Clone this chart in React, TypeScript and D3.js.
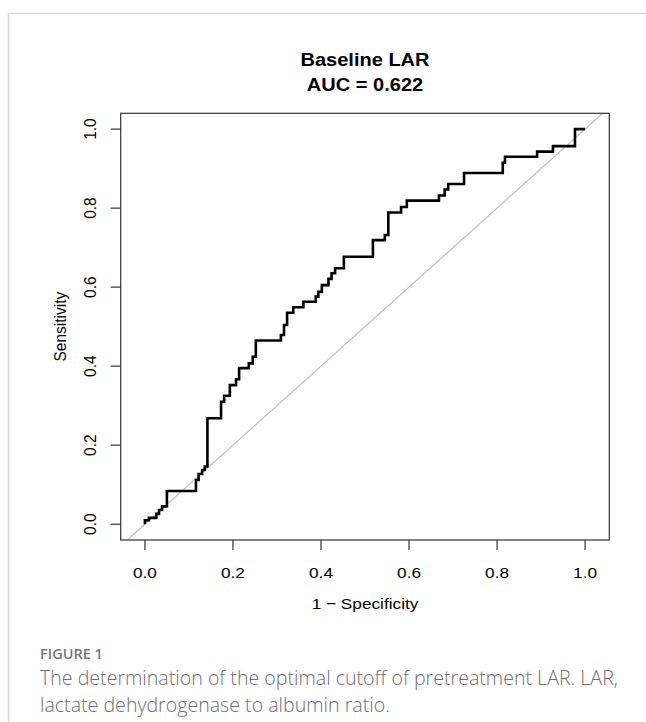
import React from "react";
import * as d3 from "d3";

// ROC corner points (end of each horizontal run)
const fpr = [
  0, 0.009, 0.026, 0.032, 0.039, 0.05, 0.116, 0.122, 0.13, 0.136, 0.142, 0.173,
  0.18, 0.193, 0.207, 0.214, 0.236, 0.245, 0.252, 0.309, 0.316, 0.323, 0.337,
  0.36, 0.388, 0.394, 0.402, 0.417, 0.424, 0.432, 0.452, 0.518, 0.545, 0.553,
  0.582, 0.595, 0.668, 0.681, 0.689, 0.725, 0.813, 0.818, 0.891, 0.927, 0.977, 1,
];
const tpr = [
  0, 0.01, 0.016, 0.026, 0.036, 0.045, 0.084, 0.112, 0.127, 0.137, 0.146, 0.268,
  0.31, 0.325, 0.352, 0.367, 0.395, 0.407, 0.424, 0.465, 0.479, 0.504, 0.535,
  0.549, 0.563, 0.576, 0.588, 0.605, 0.621, 0.635, 0.648, 0.677, 0.719, 0.732,
  0.789, 0.803, 0.819, 0.832, 0.847, 0.861, 0.889, 0.915, 0.93, 0.943, 0.957, 1,
];
const tickValues = [0, 0.2, 0.4, 0.6, 0.8, 1.0];
const titleLines = ["Baseline LAR", "AUC = 0.622"];
const xLabel = "1 \u2212 Specificity";
const yLabel = "Sensitivity";
const captionHead = "FIGURE 1";
const captionLines = [
  "The determination of the optimal cutoff of pretreatment LAR. LAR,",
  "lactate dehydrogenase to albumin ratio.",
];

const W = 646;
const H = 722;
const box = { left: 120.7, right: 609.3, top: 113.3, bottom: 540 };
const sx = 1.113; // the source picture is stretched horizontally
const arial = "'Liberation Sans', Arial, sans-serif";
const capFont = "'Open Sans', 'Noto Sans', sans-serif";

export default function App() {
  const x = d3.scaleLinear().domain([-0.055, 1.055]).range([box.left, box.right]);
  const y = d3.scaleLinear().domain([-0.04, 1.04]).range([box.bottom, box.top]);

  const pts = fpr.map((f, i) => [f, tpr[i]] as [number, number]);
  const roc = d3
    .line<[number, number]>()
    .x((d) => x(d[0]))
    .y((d) => y(d[1]))
    .curve(d3.curveStepBefore)(pts);

  const cx = (box.left + box.right) / 2;
  const cy = y(0.5);

  return (
    <svg
      width={W}
      height={H}
      style={{ position: "absolute", left: 0, top: 0, background: "#fff" }}
    >
      <defs>
        <clipPath id="plotClip">
          <rect x={box.left} y={box.top} width={box.right - box.left} height={box.bottom - box.top} />
        </clipPath>
      </defs>

      {/* page frame */}
      <rect x={8.5} y={13.5} width={W + 20} height={H + 20} fill="none" stroke="#d9d9d9" strokeWidth={1.5} />

      {/* title */}
      {titleLines.map((t, i) => (
        <text
          key={t}
          transform={`translate(${cx},${66 + i * 25}) scale(${sx},1)`}
          textAnchor="middle"
          fontFamily={arial}
          fontWeight="bold"
          fontSize={18}
          fill="#000"
        >
          {t}
        </text>
      ))}

      {/* chance line */}
      <line
        x1={x(-0.055)}
        y1={y(-0.055)}
        x2={x(1.055)}
        y2={y(1.055)}
        stroke="#bdbdbd"
        strokeWidth={1.2}
        clipPath="url(#plotClip)"
      />

      {/* ROC curve */}
      <path d={roc || ""} fill="none" stroke="#000" strokeWidth={2.6} strokeLinejoin="miter" />

      {/* box */}
      <rect
        x={box.left}
        y={box.top}
        width={box.right - box.left}
        height={box.bottom - box.top}
        fill="none"
        stroke="#333"
        strokeWidth={1.2}
      />

      {/* x axis */}
      {tickValues.map((v) => (
        <g key={"x" + v}>
          <line x1={x(v)} x2={x(v)} y1={box.bottom} y2={box.bottom + 10} stroke="#333" strokeWidth={1.2} />
          <text
            transform={`translate(${x(v)},${578}) scale(${sx},1)`}
            textAnchor="middle"
            fontFamily={arial}
            fontSize={15.5}
            fill="#000"
          >
            {d3.format(".1f")(v)}
          </text>
        </g>
      ))}
      <text
        transform={`translate(${cx},${609}) scale(${sx},1)`}
        textAnchor="middle"
        fontFamily={arial}
        fontSize={15.5}
        fill="#000"
      >
        {xLabel}
      </text>

      {/* y axis */}
      {tickValues.map((v) => (
        <g key={"y" + v}>
          <line x1={box.left - 10} x2={box.left} y1={y(v)} y2={y(v)} stroke="#333" strokeWidth={1.2} />
          <text
            transform={`translate(${96},${y(v)}) scale(${sx},1) rotate(-90)`}
            textAnchor="middle"
            fontFamily={arial}
            fontSize={15.5}
            fill="#000"
          >
            {d3.format(".1f")(v)}
          </text>
        </g>
      ))}
      <text
        transform={`translate(${66},${cy}) scale(${sx},1) rotate(-90)`}
        textAnchor="middle"
        fontFamily={arial}
        fontSize={15.5}
        fill="#000"
      >
        {yLabel}
      </text>

      {/* caption */}
      <text x={40} y={659} fontFamily={capFont} fontSize={14.5} fontWeight={600} fill="#777">
        {captionHead}
      </text>
      {captionLines.map((t, i) => (
        <text
          key={t}
          x={40}
          y={685 + i * 27}
          fontFamily={capFont}
          fontSize={19.6}
          fontWeight={300}
          fill="#6e6e6e"
        >
          {t}
        </text>
      ))}
    </svg>
  );
}
